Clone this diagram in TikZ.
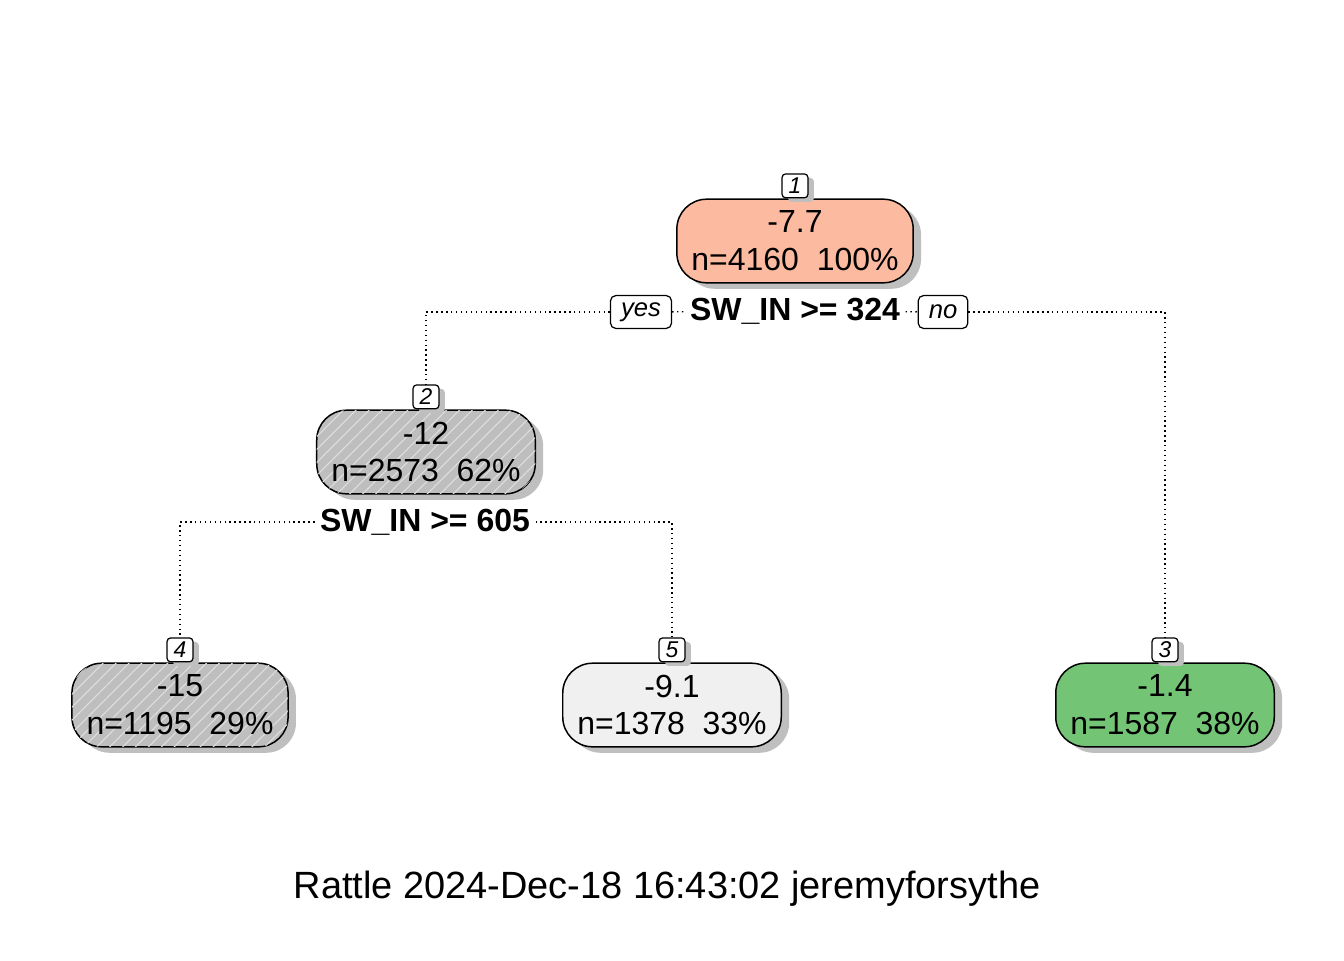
\documentclass[tikz,border=0pt]{standalone}
\usepackage{fontspec}
\setmainfont{Liberation Sans}
\usetikzlibrary{shadows,patterns.meta}
\definecolor{salmon}{HTML}{FCBBA1}
\definecolor{leafgreen}{HTML}{74C476}
\definecolor{lightfill}{HTML}{F0F0F0}
\definecolor{hatchgray}{HTML}{BEBEBE}
\definecolor{shadowgray}{HTML}{BFBFBF}
\tikzstyle{treenode}=[draw, line width=0.85pt, rounded corners=17pt, minimum height=47.6pt, inner xsep=8.3pt, align=center, font=\fontsize{18.2}{21.6}\selectfont, drop shadow={shadow xshift=4.5pt, shadow yshift=-3.4pt, fill=shadowgray, opacity=1}]
\tikzstyle{hatched}=[fill=hatchgray, postaction={pattern={Lines[angle=45,distance=5.2pt,line width=0.6pt]}, pattern color=gray!25}]
\tikzstyle{numlabel}=[draw, line width=0.7pt, fill=white, rounded corners=2pt, minimum width=14.7pt, minimum height=13.6pt, inner sep=0pt, anchor=south, font=\fontsize{13}{13}\selectfont\itshape, drop shadow={shadow xshift=3.4pt, shadow yshift=-2.3pt, fill=shadowgray, opacity=1}]
\tikzstyle{yesno}=[draw, line width=0.7pt, fill=white, rounded corners=3pt, inner xsep=6pt, inner ysep=0pt, minimum height=18.7pt, font=\fontsize{14.6}{14.6}\selectfont\itshape]
\tikzstyle{split}=[font=\fontsize{18.2}{21.6}\selectfont\bfseries, inner sep=3pt]
\tikzstyle{branch}=[line width=0.8pt, dash pattern=on 0.8pt off 2pt]

\begin{document}
\begin{tikzpicture}[x=0.02cm, y=-0.02cm]
\useasboundingbox (0,0) rectangle (1344,960);
% tree nodes
\node[treenode, fill=salmon] at (795, 241) (n1) {-7.7\\n=4160\ \ 100\%};
\node[treenode, hatched] at (426, 452) (n2) {-12\\n=2573\ \ 62\%};
\node[treenode, fill=leafgreen] at (1165, 705) (n3) {-1.4\\n=1587\ \ 38\%};
\node[treenode, hatched] at (180, 705) (n4) {-15\\n=1195\ \ 29\%};
\node[treenode, fill=lightfill] at (672, 705) (n5) {-9.1\\n=1378\ \ 33\%};
% node numbers
\node[numlabel] at (n1.north) (l1) {1};
\node[numlabel] at (n2.north) (l2) {2};
\node[numlabel] at (n3.north) (l3) {3};
\node[numlabel] at (n4.north) (l4) {4};
\node[numlabel] at (n5.north) (l5) {5};
% splits
\node[split] at (795, 311) (s1) {SW\_IN >= 324};
\node[split] at (425, 522) (s2) {SW\_IN >= 605};
\node[yesno] at (641, 312) (yes) {yes};
\node[yesno] at (943, 312) (no) {no};
\draw[branch] (yes) -- (s1);
\draw[branch] (s1) -- (no);
\draw[branch] (yes.west) -| (l2.north);
\draw[branch] (no.east) -| (l3.north);
\draw[branch] (s2.west) -| (l4.north);
\draw[branch] (s2.east) -| (l5.north);
% caption
\node[font=\fontsize{21.6}{24}\selectfont] at (667, 889) (caption) {Rattle 2024-Dec-18 16:43:02 jeremyforsythe};
\end{tikzpicture}
\end{document}
